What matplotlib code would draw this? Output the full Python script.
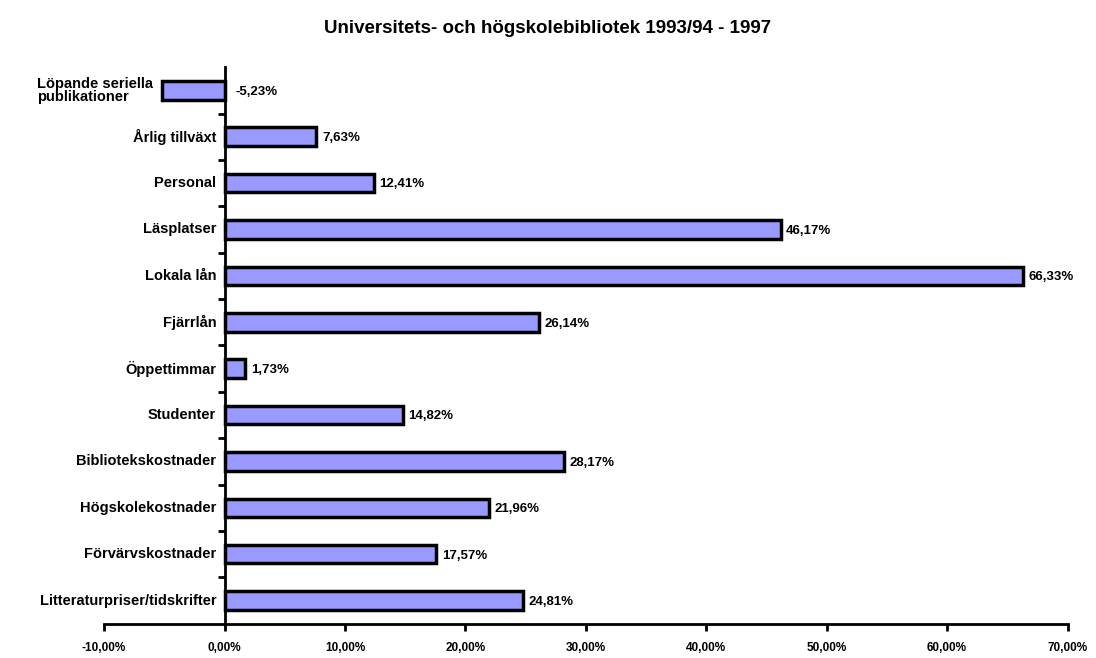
import matplotlib
matplotlib.use("Agg")
import matplotlib.pyplot as plt
import numpy as np

# data
categories = [
    "Löpande seriella\npublikationer",
    "Årlig tillväxt",
    "Personal",
    "Läsplatser",
    "Lokala lån",
    "Fjärrlån",
    "Öppettimmar",
    "Studenter",
    "Bibliotekskostnader",
    "Högskolekostnader",
    "Förvärvskostnader",
    "Litteraturpriser/tidskrifter",
]
values = [-5.23, 7.63, 12.41, 46.17, 66.33, 26.14, 1.73, 14.82, 28.17, 21.96, 17.57, 24.81]
xticks = [-10, 0, 10, 20, 30, 40, 50, 60, 70]
title = "Universitets- och högskolebibliotek 1993/94 - 1997"

plt.rcParams['font.family'] = ['Liberation Sans', 'DejaVu Sans']
plt.rcParams['font.weight'] = 'bold'

fig = plt.figure(figsize=(10.96, 6.58), dpi=100)
ax = fig.add_axes([0.095, 0.052, 0.879, 0.846])

y = np.arange(len(categories))
ax.barh(y, values, height=0.4, color="#9999FF", edgecolor="black", linewidth=2.5, zorder=3)

ax.set_xlim(-10, 70)
ax.set_ylim(len(categories) - 0.5, -0.5)

# spines: vertical axis at zero, like Excel
ax.spines['top'].set_visible(False)
ax.spines['right'].set_visible(False)
ax.spines['left'].set_position(('data', 0))
ax.spines['left'].set_linewidth(2)
ax.spines['bottom'].set_linewidth(2)

# y ticks between categories, labels drawn by hand
ax.set_yticks(np.arange(1, len(categories)) - 0.5)
ax.set_yticklabels([])
ax.tick_params(axis='y', direction='out', length=5, width=2)

ax.set_xticks(xticks)
ax.set_xticklabels([("%.2f%%" % t).replace(".", ",") for t in xticks], fontsize=8.5, fontweight='bold')
ax.tick_params(axis='x', direction='out', length=5, width=2, pad=8)

for yi, (cat, v) in enumerate(zip(categories, values)):
    ax.annotate(cat, xy=(min(v, 0), yi), xytext=(-6, 0), textcoords='offset points',
                ha='right', va='center', multialignment='left',
                fontsize=10.5, fontweight='bold', linespacing=0.9)
    lab = ("%.2f%%" % v).replace(".", ",")
    ax.annotate(lab, xy=(max(v, 0), yi), xytext=(4 if v >= 0 else 8, -1), textcoords='offset points',
                ha='left', va='center', fontsize=9.5, fontweight='bold')

fig.suptitle(title, y=0.97, fontsize=13.5, fontweight='bold')

fig.savefig("out.png", dpi=100)
